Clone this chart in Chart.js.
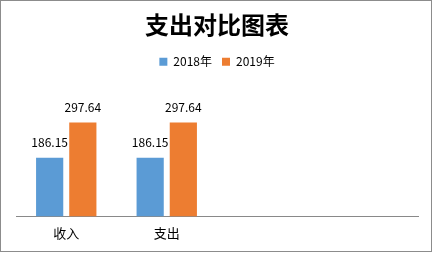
<!DOCTYPE html>
<html>
<head>
<meta charset="utf-8">
<script src="https://cdn.jsdelivr.net/npm/chart.js@4/dist/chart.umd.min.js"></script>
<style>
  html, body { margin: 0; padding: 0; background: #fff; }
  #wrap { width: 433px; height: 253px; position: relative; }
</style>
</head>
<body>
<div id="wrap"><canvas id="barChart" width="433" height="253"></canvas></div>
<script>
// categories (the last two slots are empty in the original sheet)
const categories = ['收入', '支出', '', ''];
const series2018 = [186.15, 186.15, null, null];
const series2019 = [297.64, 297.64, null, null];
const seriesNames = ['2018年', '2019年'];

const FONT = "'Noto Sans CJK SC', 'Noto Sans', sans-serif";

// value labels above each bar + outer frame
const barLabels = {
    id: 'barLabels',
    afterDatasetsDraw(chart) {
        const ctx = chart.ctx;
        ctx.save();
        ctx.font = '12px ' + FONT;
        ctx.fillStyle = '#000';
        ctx.textAlign = 'center';
        ctx.textBaseline = 'middle';
        chart.data.datasets.forEach((ds, i) => {
            chart.getDatasetMeta(i).data.forEach((bar, j) => {
                if (ds.data[j] == null) return;
                ctx.fillText(ds.data[j].toFixed(2), bar.x, bar.y - 15);
            });
        });
        ctx.restore();
    },
    afterDraw(chart) {
        const ctx = chart.ctx;
        ctx.save();
        ctx.strokeStyle = '#8c8c8c';
        ctx.lineWidth = 1;
        ctx.strokeRect(0.5, 0.5, chart.width - 2, chart.height - 2);
        ctx.restore();
    }
};

const myChart = new Chart(document.getElementById('barChart').getContext('2d'), {
    type: 'bar',
    data: {
        labels: categories,
        datasets: [
            { label: seriesNames[0], data: series2018, backgroundColor: '#5b9bd5' },
            { label: seriesNames[1], data: series2019, backgroundColor: '#ed7d31' }
        ]
    },
    options: {
        responsive: false,
        animation: false,
        categoryPercentage: 0.66,
        barPercentage: 0.82,
        layout: { padding: { left: 16, right: 15, top: 0, bottom: 3 } },
        scales: {
            x: {
                grid: { display: false, drawTicks: false },
                border: { display: true, color: '#898989', width: 1 },
                ticks: { color: '#000', padding: 9, font: { family: FONT, size: 13 } }
            },
            y: {
                display: false,
                min: 0,
                max: 439
            }
        },
        plugins: {
            title: {
                display: true,
                text: '支出对比图表',
                color: '#000',
                font: { family: FONT, size: 24, weight: 'bold' },
                padding: { top: 10, bottom: 7 }
            },
            legend: {
                display: true,
                labels: {
                    boxWidth: 8,
                    boxHeight: 8,
                    color: '#000',
                    padding: 10,
                    font: { family: FONT, size: 12 }
                }
            },
            tooltip: { enabled: false }
        }
    },
    plugins: [barLabels]
});
</script>
</body>
</html>
